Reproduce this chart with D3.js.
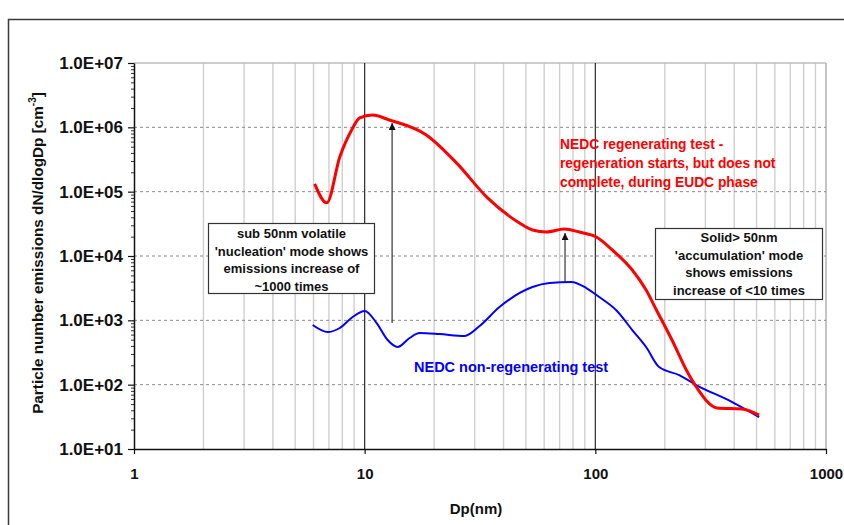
<!DOCTYPE html>
<html>
<head>
<meta charset="utf-8">
<script src="https://cdn.jsdelivr.net/npm/d3@7/dist/d3.min.js"></script>
<style>
  html, body { margin: 0; padding: 0; background: #fff; }
  svg { display: block; font-family: "Liberation Sans", Arial, Helvetica, sans-serif; }
</style>
</head>
<body>
<svg id="chart" width="844" height="525"></svg>
<script>
// Particle size distributions (dN/dlogDp, cm^-3) against mobility diameter Dp (nm)
const regenDp  = [6.07, 6.85, 7.8, 8.78, 9.52, 10.8, 12.8, 18.5, 25.0, 34.1, 46.9, 53.4, 61.4, 73.4, 85.3, 101, 118.5, 144.6, 166, 184, 215, 248, 276, 337, 433, 513];
const regenVal = [1.32e5, 6.7e4, 3.46e5, 9.1e5, 1.40e6, 1.55e6, 1.30e6, 7.6e5, 2.8e5, 8.0e4, 3.26e4, 2.54e4, 2.36e4, 2.63e4, 2.36e4, 1.97e4, 1.24e4, 6.05e3, 2.96e3, 1.45e3, 494, 169, 88.7, 43.4, 41.8, 33.7];

const nonRegenDp  = [5.95, 6.92, 7.8, 8.87, 10.0, 11.27, 12.58, 13.9, 15.66, 17.3, 21.1, 27.1, 31.5, 38.4, 53.4, 63.2, 78.7, 91.4, 104, 123, 144.6, 166, 189, 231, 274, 392, 513];
const nonRegenVal = [845, 658, 760, 1127, 1396, 908, 494, 385, 531, 635, 612, 570, 816, 1610, 3297, 3802, 3945, 3177, 2305, 1446, 707, 385, 188, 141, 98.8, 53.7, 31.4];

// Axis ticks
const xTicks = [1, 10, 100, 1000];
const yTicks = [1e1, 1e2, 1e3, 1e4, 1e5, 1e6, 1e7];

// Increase arrows: [Dp, from, to]
const arrows = [
  [13.15, 908, 1.17e6],
  [73.9, 3.98e3, 2.27e4]
];

// Annotation texts
const nucleationNote = ["sub 50nm volatile", "'nucleation' mode shows", "emissions increase of", "~1000 times"];
const accumulationNote = ["Solid> 50nm", "'accumulation' mode", "shows emissions", "increase of <10 times"];
const regenLabel = ["NEDC regenerating test -", "regeneration starts, but does not", "complete, during EUDC phase"];
const nonRegenLabel = "NEDC non-regenerating test";

const svg = d3.select("#chart");
const plotL = 134, plotR = 826, plotT = 63, plotB = 449;

const x = d3.scaleLog().domain([1, 1000]).range([plotL, plotR]);
const y = d3.scaleLog().domain([10, 1e7]).range([plotB, plotT]);

// outer frame
svg.append("rect")
  .attr("x", 8.5).attr("y", 19.5).attr("width", 900).attr("height", 600)
  .attr("fill", "none").attr("stroke", "#3a3a3a").attr("stroke-width", 1.5);

// vertical minor gridlines
const minorX = [];
for (let k = 0; k < 3; k++) for (let m = 2; m <= 9; m++) minorX.push(m * Math.pow(10, k));
svg.append("g").selectAll("line").data(minorX).join("line")
  .attr("x1", d => x(d)).attr("x2", d => x(d))
  .attr("y1", plotT).attr("y2", plotB)
  .attr("stroke", "#cfcfcf").attr("stroke-width", 1.4);

// right border and top border
svg.append("line").attr("x1", x(1000)).attr("x2", x(1000)).attr("y1", plotT).attr("y2", plotB)
  .attr("stroke", "#c4c4c4").attr("stroke-width", 2);
svg.append("line").attr("x1", plotL).attr("x2", plotR).attr("y1", y(1e7)).attr("y2", y(1e7))
  .attr("stroke", "#bdbdbd").attr("stroke-width", 1.5);

// horizontal dashed gridlines
svg.append("g").selectAll("line").data(yTicks.filter(v => v > 10 && v < 1e7)).join("line")
  .attr("x1", plotL).attr("x2", plotR)
  .attr("y1", d => y(d)).attr("y2", d => y(d))
  .attr("stroke", "#8a8a8a").attr("stroke-width", 1).attr("stroke-dasharray", "3,3");

// major vertical gridlines at 10 and 100
svg.append("g").selectAll("line").data([10, 100]).join("line")
  .attr("x1", d => x(d)).attr("x2", d => x(d))
  .attr("y1", plotT).attr("y2", plotB)
  .attr("stroke", "#2a2a2a").attr("stroke-width", 1.2);

// y axis
const fmt = v => "1.0E+" + String(Math.round(Math.log10(v))).padStart(2, "0");
const minorY = [];
for (let k = 1; k < 7; k++) for (let m = 2; m <= 9; m++) minorY.push(m * Math.pow(10, k));

const yMinor = svg.append("g").attr("transform", `translate(${plotL},0)`)
  .call(d3.axisLeft(y).tickValues(minorY).tickSize(3).tickFormat(""));
yMinor.select(".domain").remove();
yMinor.selectAll("line").attr("stroke", "#333");

const yAxis = svg.append("g").attr("transform", `translate(${plotL},0)`)
  .call(d3.axisLeft(y).tickValues(yTicks).tickSize(6).tickSizeOuter(0).tickPadding(5).tickFormat(fmt));
yAxis.select(".domain").attr("stroke", "#111").attr("stroke-width", 1.5);
yAxis.selectAll("line").attr("stroke", "#111").attr("stroke-width", 1.2);
yAxis.selectAll("text").attr("font-size", 17).attr("font-weight", "bold").attr("fill", "#111")
  .attr("font-family", "'Liberation Sans', Arial, sans-serif");

// x axis
const xAxis = svg.append("g").attr("transform", `translate(0,${plotB})`)
  .call(d3.axisBottom(x).tickValues(xTicks).tickSize(5).tickSizeOuter(0).tickPadding(14).tickFormat(d3.format("d")));
xAxis.select(".domain").attr("stroke", "#111").attr("stroke-width", 1.5);
xAxis.selectAll("line").attr("stroke", "#111").attr("stroke-width", 1.2);
xAxis.selectAll("text").attr("font-size", 15).attr("font-weight", "bold").attr("fill", "#111")
  .attr("font-family", "'Liberation Sans', Arial, sans-serif");

// axis titles
svg.append("text")
  .attr("x", 476).attr("y", 514)
  .attr("text-anchor", "middle").attr("font-size", 15).attr("font-weight", "bold").attr("fill", "#111")
  .text("Dp(nm)");

const yTitle = svg.append("text")
  .attr("transform", `translate(43,253) rotate(-90)`)
  .attr("text-anchor", "middle").attr("font-size", 15.3).attr("font-weight", "bold").attr("fill", "#111");
yTitle.append("tspan").text("Particle number emissions dN/dlogDp [cm");
yTitle.append("tspan").attr("dy", -7).attr("font-size", 10).text("-3");
yTitle.append("tspan").attr("dy", 7).text("]");

// arrows
svg.append("defs").append("marker")
  .attr("id", "head").attr("viewBox", "0 0 10 10").attr("refX", 10).attr("refY", 5)
  .attr("markerWidth", 9).attr("markerHeight", 7).attr("orient", "auto")
  .attr("markerUnits", "userSpaceOnUse")
  .append("path").attr("d", "M0,0 L10,5 L0,10 Z").attr("fill", "#111");

svg.append("g").selectAll("line").data(arrows).join("line")
  .attr("x1", d => x(d[0])).attr("x2", d => x(d[0]))
  .attr("y1", d => y(d[1])).attr("y2", d => y(d[2]))
  .attr("stroke", "#333").attr("stroke-width", 1.2)
  .attr("marker-end", "url(#head)");

// series
const line = d3.line().x(d => x(d[0])).y(d => y(d[1])).curve(d3.curveMonotoneX);
svg.append("path").datum(d3.zip(nonRegenDp, nonRegenVal))
  .attr("d", line).attr("fill", "none").attr("stroke", "#0000ff").attr("stroke-width", 2);
svg.append("path").datum(d3.zip(regenDp, regenVal))
  .attr("d", line).attr("fill", "none").attr("stroke", "#ff0000").attr("stroke-width", 3)
  .attr("stroke-linejoin", "round");

// annotation boxes
function note(lines, x0, y0, w, h, cx, firstY) {
  const g = svg.append("g");
  g.append("rect").attr("x", x0).attr("y", y0).attr("width", w).attr("height", h)
    .attr("fill", "#fff").attr("stroke", "#333").attr("stroke-width", 1.2);
  g.selectAll("text").data(lines).join("text")
    .attr("x", cx).attr("y", (d, i) => firstY + i * 17.7)
    .attr("text-anchor", "middle").attr("font-size", 13).attr("font-weight", "bold").attr("fill", "#111")
    .text(d => d);
}
note(nucleationNote, 208.5, 223.5, 166, 70, 291.5, 238);
note(accumulationNote, 655.5, 228.5, 167, 71, 739, 242);

// series labels
svg.append("g").selectAll("text").data(regenLabel).join("text")
  .attr("x", 560).attr("y", (d, i) => 149 + i * 19)
  .attr("font-size", 13.8).attr("font-weight", "bold").attr("fill", "#ff0000")
  .text(d => d);
svg.append("text").attr("x", 414).attr("y", 372)
  .attr("font-size", 14.5).attr("font-weight", "bold").attr("fill", "#0000ff")
  .text(nonRegenLabel);
</script>
</body>
</html>
